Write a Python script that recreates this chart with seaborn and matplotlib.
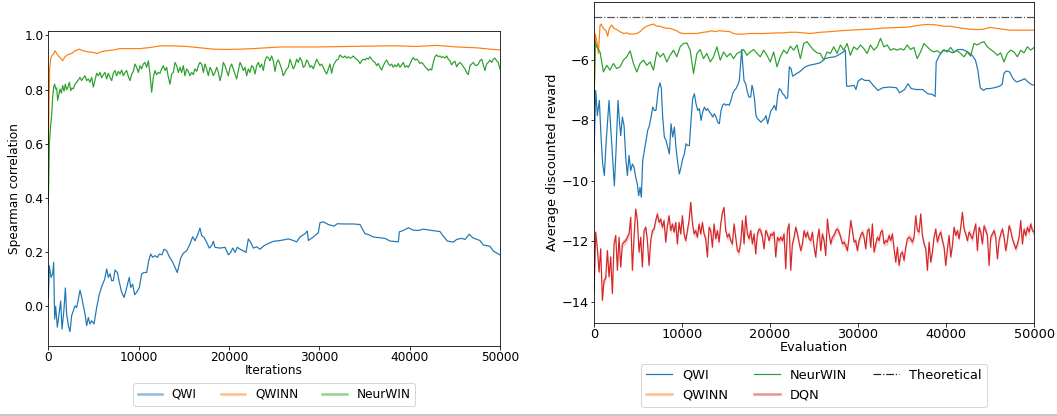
import numpy as np
import pandas as pd
import seaborn as sns
import matplotlib.pyplot as plt
from matplotlib.lines import Line2D

# ---------------- left panel: Spearman correlation vs iterations ----------------
qwi_corr = [
    (0, 0.03), (114, 0.15), (299, 0.107), (483, 0.12), (594, 0.162), (705, -0.047), (815, 0.0),
    (1000, -0.077), (1184, -0.028), (1369, 0.02), (1516, -0.084), (1738, -0.01), (1886, 0.068),
    (2033, -0.028), (2218, -0.071), (2402, -0.093), (2587, -0.034), (2771, -0.016), (2956, 0.002),
    (3140, -0.004), (3325, 0.027), (3509, 0.06), (3694, 0.033), (3878, 0.002), (4063, -0.028),
    (4247, -0.071), (4432, -0.041), (4616, -0.065), (4801, -0.053), (5059, -0.065), (5354, -0.004),
    (5649, 0.045), (5944, 0.076), (6240, 0.1), (6461, 0.138), (6645, 0.107), (6830, 0.12),
    (7015, 0.095), (7199, 0.095), (7384, 0.134), (7642, 0.125), (7863, 0.089), (8122, 0.052),
    (8380, 0.033), (8601, 0.058), (8823, 0.089), (8970, 0.107), (9118, 0.07), (9339, 0.082),
    (9561, 0.043), (9782, 0.052), (10077, 0.07), (10336, 0.12), (10594, 0.125), (10889, 0.125),
    (11111, 0.168), (11332, 0.193), (11554, 0.181), (11812, 0.187), (12070, 0.181), (12291, 0.193),
    (12587, 0.19), (12808, 0.211), (13103, 0.205), (13398, 0.183), (13693, 0.168), (14025, 0.144),
    (14284, 0.125), (14505, 0.156), (14653, 0.178), (14948, 0.196), (15317, 0.205), (15686, 0.23),
    (15982, 0.257), (16240, 0.242), (16498, 0.261), (16793, 0.289), (16978, 0.261), (17236, 0.255),
    (17531, 0.236), (17826, 0.215), (18085, 0.224), (18269, 0.24), (18454, 0.218), (19007, 0.215),
    (19561, 0.218), (19930, 0.19), (20188, 0.199), (20410, 0.215), (20668, 0.199), (20926, 0.218),
    (21221, 0.211), (21590, 0.205), (21885, 0.199), (22143, 0.249), (22402, 0.236), (22697, 0.215),
    (23066, 0.22), (23435, 0.211), (23878, 0.224), (24357, 0.232), (24911, 0.24), (25464, 0.242),
    (26018, 0.245), (26571, 0.249), (27125, 0.243), (27494, 0.238), (27863, 0.256), (28417, 0.268),
    (28675, 0.278), (28785, 0.243), (29339, 0.256), (29892, 0.272), (30077, 0.309), (30446, 0.312),
    (30999, 0.302), (31627, 0.296), (31996, 0.305), (32660, 0.304), (33767, 0.304), (34505, 0.302),
    (34801, 0.284), (35059, 0.268), (35428, 0.265), (35981, 0.256), (36719, 0.253), (37273, 0.251),
    (37826, 0.241), (38749, 0.238), (38859, 0.275), (39302, 0.28), (39855, 0.29), (40409, 0.281),
    (40962, 0.28), (41516, 0.285), (42254, 0.281), (43361, 0.276), (43730, 0.259), (44173, 0.241),
    (44837, 0.237), (45206, 0.247), (45760, 0.251), (46129, 0.247), (46609, 0.266), (46977, 0.253),
    (47789, 0.243), (48158, 0.226), (48896, 0.222), (49265, 0.204), (50000, 0.19),
]

qwinn_corr = [
    (0, 0.6), (150, 0.88), (299, 0.918), (373, 0.924), (557, 0.93), (742, 0.943), (926, 0.933),
    (1111, 0.924), (1369, 0.916), (1590, 0.906), (1849, 0.921), (2218, 0.93), (2587, 0.933),
    (2956, 0.943), (3435, 0.949), (3878, 0.943), (4432, 0.939), (4985, 0.937), (5428, 0.933),
    (5907, 0.94), (6461, 0.943), (7199, 0.946), (7937, 0.951), (9044, 0.951), (10151, 0.951),
    (11258, 0.955), (12365, 0.961), (13841, 0.961), (15317, 0.959), (16793, 0.954), (18269, 0.949),
    (19745, 0.948), (21221, 0.949), (22697, 0.951), (24173, 0.954), (25649, 0.957), (29710, 0.957),
    (33400, 0.959), (37080, 0.961), (38930, 0.961), (40780, 0.959), (42990, 0.963), (45210, 0.957),
    (47420, 0.954), (48900, 0.949), (50000, 0.946),
]

neurwin_corr_start = [
    (0, 0.38), (120, 0.6), (250, 0.665), (373, 0.705), (483, 0.772), (594, 0.809), (705, 0.82),
    (815, 0.802), (926, 0.806), (1037, 0.76), (1150, 0.778), (1294, 0.802), (1443, 0.787),
    (1590, 0.815), (1740, 0.794), (1886, 0.82), (2033, 0.799), (2180, 0.809), (2330, 0.827),
    (2476, 0.796), (2620, 0.806), (2770, 0.802),
]
# evaluated every ~185 iterations from 2956 to 50000
neurwin_corr_rest = [
    0.82, 0.827, 0.835, 0.845, 0.833, 0.843, 0.851, 0.833, 0.839, 0.827,
    0.845, 0.809, 0.835, 0.86, 0.851, 0.863, 0.843, 0.855, 0.863, 0.839,
    0.86, 0.845, 0.833, 0.86, 0.87, 0.851, 0.867, 0.857, 0.872, 0.851,
    0.863, 0.87, 0.848, 0.833, 0.857, 0.867, 0.894, 0.882, 0.863, 0.888,
    0.876, 0.894, 0.9, 0.882, 0.906, 0.857, 0.79, 0.845, 0.87, 0.855,
    0.863, 0.86, 0.876, 0.888, 0.87, 0.882, 0.845, 0.82, 0.857, 0.863,
    0.9, 0.888, 0.863, 0.882, 0.863, 0.888, 0.851, 0.876, 0.867, 0.851,
    0.863, 0.855, 0.876, 0.867, 0.888, 0.9, 0.894, 0.863, 0.894, 0.876,
    0.851, 0.882, 0.87, 0.851, 0.863, 0.882, 0.863, 0.833, 0.857, 0.9,
    0.888, 0.87, 0.851, 0.882, 0.894, 0.876, 0.857, 0.839, 0.87, 0.9,
    0.888, 0.87, 0.882, 0.851, 0.876, 0.863, 0.888, 0.882, 0.857, 0.888,
    0.9, 0.882, 0.894, 0.87, 0.906, 0.921, 0.918, 0.906, 0.924, 0.906,
    0.867, 0.9, 0.909, 0.894, 0.876, 0.851, 0.863, 0.876, 0.882,
    0.912, 0.894, 0.876, 0.888, 0.912, 0.9, 0.918, 0.906, 0.882, 0.888,
    0.909, 0.9, 0.882, 0.888, 0.876, 0.894, 0.912, 0.9, 0.888, 0.894,
    0.882, 0.867, 0.857, 0.876, 0.894, 0.86, 0.888, 0.9, 0.909, 0.912,
    0.928, 0.921, 0.918, 0.924, 0.916, 0.921, 0.916, 0.918, 0.924, 0.916,
    0.912, 0.906, 0.896, 0.906, 0.912, 0.909, 0.916, 0.912, 0.921, 0.912,
    0.904, 0.9, 0.888, 0.896, 0.882, 0.872, 0.888, 0.9, 0.909, 0.896,
    0.888, 0.894, 0.882, 0.891, 0.884, 0.896, 0.882, 0.891, 0.9, 0.882,
    0.888, 0.882, 0.894, 0.909, 0.918, 0.909, 0.912, 0.906, 0.896, 0.9,
    0.894, 0.884, 0.879, 0.87, 0.876, 0.872, 0.9, 0.921, 0.928, 0.921,
    0.924, 0.918, 0.921, 0.916, 0.924, 0.912, 0.906, 0.891, 0.9, 0.904,
    0.884, 0.894, 0.9, 0.894, 0.884, 0.876, 0.863, 0.855, 0.888, 0.894,
    0.9, 0.891, 0.888, 0.894, 0.906, 0.912, 0.891, 0.87, 0.894, 0.9,
    0.909, 0.9, 0.912, 0.916, 0.906, 0.9, 0.876,
]

# ---------------- right panel: average discounted reward vs evaluation ----------------
theoretical_reward = -4.58

qwi_reward = [
    (0, -9.1), (189, -7.02), (378, -7.85), (606, -7.35), (795, -8.56), (984, -9.45), (1174, -9.83),
    (1363, -8.78), (1553, -8.01), (1704, -7.35), (1893, -8.23), (2120, -9.23), (2310, -10.17),
    (2500, -9.0), (2727, -7.35), (2878, -8.01), (3030, -8.51), (3220, -7.9), (3410, -8.18),
    (3600, -9.23), (3790, -9.83), (3980, -9.17), (4170, -9.67), (4355, -9.45), (4545, -9.56),
    (4735, -9.89), (4920, -10.11), (5070, -10.5), (5225, -10.22), (5375, -10.55), (5530, -9.34),
    (5720, -9.0), (5910, -8.67), (6100, -8.34), (6290, -8.18), (6480, -7.9), (6670, -7.57),
    (6860, -7.68), (7040, -7.68), (7310, -6.96), (7500, -6.77), (7650, -6.96), (7800, -7.9),
    (7990, -8.56), (8180, -8.67), (8370, -8.9), (8560, -9.12), (8750, -8.12), (8940, -8.56),
    (9130, -8.23), (9310, -8.9), (9500, -9.39), (9690, -9.78), (9880, -9.56), (10070, -9.28),
    (10260, -9.12), (10450, -8.78), (10640, -8.84), (10830, -8.84), (11020, -8.01), (11210, -7.29),
    (11400, -7.13), (11590, -7.46), (11780, -7.68), (11970, -7.62), (12160, -8.01), (12350, -7.73),
    (12540, -7.57), (12730, -7.68), (12920, -7.62), (13110, -7.73), (13290, -7.79), (13480, -7.9),
    (13670, -7.79), (13860, -7.9), (14050, -8.07), (14240, -8.12), (14430, -7.68), (14620, -7.51),
    (14810, -7.46), (15000, -7.51), (15180, -7.48), (15370, -7.51), (15560, -7.35), (15750, -7.13),
    (15940, -7.02), (16130, -6.96), (16320, -6.85), (16510, -6.69), (16660, -6.13), (16780, -5.67),
    (16890, -6.13), (17040, -6.69), (17230, -6.8), (17420, -7.07), (17610, -7.24), (17800, -7.24),
    (17950, -6.85), (18100, -7.02), (18250, -7.35), (18400, -7.85), (18590, -7.96), (18780, -8.01),
    (18970, -8.07), (19160, -8.01), (19350, -7.96), (19540, -7.85), (19730, -8.12), (19920, -7.9),
    (20110, -7.68), (20300, -7.62), (20490, -7.51), (20680, -7.68), (20870, -7.18), (21060, -6.96),
    (21250, -7.02), (21430, -7.13), (21620, -7.18), (21810, -7.29), (22000, -7.26), (22190, -6.24),
    (22380, -6.3), (22570, -6.55), (22760, -6.52), (23020, -6.46), (23330, -6.41), (23590, -6.35),
    (23860, -6.27), (24160, -6.22), (24460, -6.19), (25110, -6.15), (25680, -6.11), (26240, -5.97),
    (26810, -5.93), (27380, -5.91), (27950, -5.82), (28320, -5.75), (28550, -5.69), (28700, -6.88),
    (29080, -6.88), (29530, -6.85), (29760, -6.99), (30020, -6.71), (30400, -6.63), (30780, -6.69),
    (31270, -6.69), (31720, -6.85), (32260, -7.02), (32830, -6.93), (33590, -6.91), (34350, -6.93),
    (34720, -7.1), (35290, -6.99), (35670, -6.8), (36050, -6.96), (36600, -6.99), (37350, -6.99),
    (37920, -7.13), (38420, -7.15), (38760, -7.22), (38880, -6.08), (39260, -5.86), (39630, -5.71),
    (40200, -5.71), (40770, -5.78), (41340, -5.67), (41910, -5.67), (42470, -5.75), (42960, -5.86),
    (43340, -6.02), (43610, -6.35), (43880, -6.93), (44260, -7.02), (44560, -6.96), (44940, -6.96),
    (45510, -6.93), (46080, -6.88), (46380, -6.82), (46570, -6.46), (46840, -6.38), (47220, -6.41),
    (47600, -6.63), (47980, -6.74), (48540, -6.69), (48920, -6.63), (49300, -6.74), (49680, -6.82),
    (50000, -6.85),
]

qwinn_reward = [
    (0, -7.6), (150, -5.15), (350, -5.45), (500, -5.8), (680, -4.88), (795, -4.83), (1060, -4.97),
    (1360, -5.05), (1550, -5.23), (1740, -4.97), (2010, -4.86), (2270, -4.97), (2580, -5.01),
    (2950, -5.08), (3330, -5.14), (3710, -5.12), (4090, -5.16), (4470, -5.16), (4850, -5.14),
    (5230, -5.08), (5600, -4.97), (5980, -4.9), (6360, -4.86), (6740, -4.83), (7120, -4.9),
    (7500, -4.9), (7880, -4.94), (8260, -4.97), (8630, -4.97), (9010, -5.01), (9390, -5.05),
    (9770, -5.12), (10150, -5.14), (10910, -5.14), (11660, -5.14), (12420, -5.1), (12990, -5.08),
    (13370, -5.05), (13750, -5.08), (14130, -5.05), (14700, -5.06), (15450, -5.08), (15830, -5.14),
    (16210, -5.16), (16970, -5.16), (17720, -5.14), (18480, -5.14), (19240, -5.14), (19990, -5.13),
    (20750, -5.12), (21510, -5.12), (22260, -5.1), (23020, -5.1), (23780, -5.12), (24540, -5.14),
    (25680, -5.1), (26810, -5.08), (27950, -5.05), (29080, -5.03), (30220, -5.01), (31350, -5.0),
    (32490, -4.97), (33630, -4.95), (34760, -4.94), (35900, -4.92), (36660, -4.88), (37410, -4.85),
    (38170, -4.84), (38930, -4.86), (39680, -4.9), (40440, -4.9), (41200, -4.94), (41950, -4.97),
    (42710, -5.0), (43470, -5.01), (44220, -5.0), (44980, -4.94), (45740, -4.97), (46490, -5.0),
    (47250, -5.03), (48390, -5.03), (50000, -5.03),
]

neurwin_reward_start = [(0, -7.5), (150, -5.4)]
# evaluated every ~380 steps from 303 to 50000
neurwin_reward_rest = [
    -5.58, -5.75, -6.41, -6.19, -6.35, -6.13, -6.3, -6.24, -6.02, -5.91,
    -5.71, -6.13, -6.41, -6.13, -6.02, -6.19, -6.08, -6.35, -5.75, -5.91,
    -5.8, -6.08, -5.86, -5.69, -5.91, -5.58, -5.47, -5.45, -5.69, -6.46,
    -5.8, -5.67, -5.97, -5.8, -6.08, -5.91, -5.58, -6.02, -5.75, -5.91,
    -5.8, -5.97, -5.8, -5.75, -5.67, -5.86, -5.75, -5.67, -5.8, -5.91,
    -5.69, -5.86, -6.08, -5.75, -6.24, -5.91, -5.69, -5.8, -5.56, -5.69,
    -5.52, -5.97, -5.47, -5.41,
    -5.56, -5.69, -5.78, -5.8, -6.02, -5.75, -5.8, -5.58, -5.8, -5.52,
    -5.69, -5.47, -5.86, -5.58, -5.67, -5.52, -5.64, -5.8, -5.52, -5.69,
    -5.58, -5.3, -5.58, -5.52, -5.69, -5.64, -5.69, -5.64, -5.69, -5.52,
    -5.67, -5.6, -5.97, -5.75, -5.47, -5.58, -5.69, -5.75, -5.71, -5.8,
    -5.67, -5.75, -5.6, -5.75, -5.71, -5.8, -5.91, -5.75, -5.89, -5.47,
    -5.52, -5.45, -5.41, -5.58, -5.67, -5.75, -5.86, -5.78, -6.08, -5.8,
    -5.69, -5.75, -5.91, -5.69, -5.78, -5.58, -5.69, -5.6,
]

# DQN mean over runs, evaluated every ~190 steps from 0 to 50000
dqn_reward = [
    -13.7,
    -11.7, -12.25, -13.02, -12.25, -13.95, -13.29, -13.23, -12.31, -13.18, -12.52,
    -13.73, -12.09, -11.81, -12.96, -11.87, -12.85, -12.09, -12.03, -11.98, -11.87,
    -11.76, -11.21, -12.96, -11.87, -10.94, -11.32, -12.36, -11.87, -12.85, -11.65,
    -11.54, -11.98, -12.8, -11.98, -11.65, -11.6, -11.32, -11.1, -11.38, -11.27,
    -11.54, -11.32, -12.03, -11.49, -11.16, -11.65, -11.43, -11.7, -11.38, -12.09,
    -11.38, -11.76, -11.16, -11.76, -11.98, -11.65, -11.32, -10.72, -11.38, -11.76,
    -11.65, -11.87, -11.43, -11.76, -11.38, -11.76, -11.92, -12.52, -11.54, -11.65,
    -12.2, -11.43, -11.92, -11.65, -12.03, -11.43, -11.05, -10.89, -11.65, -11.87,
    -11.76, -11.98, -12.09, -11.43, -11.87, -12.31, -12.36, -12.03, -11.32, -12.09,
    -11.16, -11.76, -11.92, -11.65, -12.09, -11.76, -12.42, -11.76, -11.6, -11.65,
    -11.87, -12.25, -11.65, -11.76, -11.98, -11.76, -11.81, -11.7, -12.52, -11.87,
    -11.98, -11.87, -11.98, -11.76, -12.91, -11.65, -11.43, -12.96, -12.09, -11.87,
    -11.54, -11.76, -12.03, -12.31, -12.09, -11.65, -11.87, -11.7, -11.92,
    -11.98, -11.7, -12.2, -12.52, -11.92, -11.6, -12.31, -11.76, -11.98, -12.47,
    -11.27, -11.76, -12.09, -11.87, -11.81, -11.65, -11.6, -11.7, -11.87, -12.09,
    -12.03, -12.14, -12.31, -11.87, -11.32, -11.65, -12.03, -11.98, -12.31, -11.98,
    -11.81, -11.7, -11.87, -12.25, -11.65, -11.6, -12.2, -11.43, -12.36, -12.09,
    -11.87, -11.98, -11.7, -11.65, -12.09, -11.98, -12.03, -11.81, -11.98, -11.76,
    -12.25, -12.69, -12.2, -12.8, -12.42, -12.36, -12.63, -12.2, -11.92, -11.87,
    -11.92, -12.03, -11.87, -11.16, -11.65, -11.7, -11.1, -11.81, -12.09, -12.25,
    -12.96, -12.03, -12.69, -12.36, -11.87, -11.6, -12.03, -11.81, -11.7, -11.98,
    -12.2, -12.8, -12.25, -11.81, -12.52, -12.14, -11.54, -11.81, -11.65, -11.92,
    -11.54, -11.05, -11.6, -11.76, -11.98, -11.7, -11.81, -11.92, -11.65, -11.43,
    -12.31, -11.54, -11.7, -12.09, -11.49, -11.65, -11.81, -12.8, -11.87, -11.76,
    -11.65, -11.87, -12.58, -11.98, -11.76, -11.6, -11.87, -12.31, -11.98, -11.49,
    -11.65, -11.92, -12.09, -12.25, -12.09, -11.87, -11.32, -12.09, -11.6, -11.81,
    -11.54, -11.7, -11.43, -11.65, -11.7,
]
dqn_ci_half = 0.12


def to_frame(pairs):
    x, y = zip(*pairs)
    return pd.DataFrame({"x": x, "y": y})


def even_frame(start_pairs, x0, x1, values):
    head = to_frame(start_pairs)
    tail = pd.DataFrame({"x": np.linspace(x0, x1, len(values)), "y": values})
    return pd.concat([head, tail], ignore_index=True)


blue, orange, green, red = sns.color_palette("tab10")[:4]
LW = 1.2
FS_LEFT = 12.1
FS_RIGHT = 12.9

# 72 dpi so that 1 pt == 1 px
fig = plt.figure(figsize=(1057 / 72, 416 / 72), dpi=72)
ax1 = fig.add_axes([0.0457, 0.1671, 0.4273, 0.7584])
ax2 = fig.add_axes([0.562, 0.2236, 0.4163, 0.7716])

# left
sns.lineplot(data=to_frame(qwi_corr), x="x", y="y", ax=ax1, color=blue, lw=LW, errorbar=None)
sns.lineplot(data=to_frame(qwinn_corr), x="x", y="y", ax=ax1, color=orange, lw=LW, errorbar=None)
sns.lineplot(data=even_frame(neurwin_corr_start, 2956, 50000, neurwin_corr_rest),
             x="x", y="y", ax=ax1, color=green, lw=LW, errorbar=None)
ax1.set_xlim(0, 50000)
ax1.set_ylim(-0.148, 1.016)
ax1.set_xticks([0, 10000, 20000, 30000, 40000, 50000])
ax1.set_xlabel("Iterations", fontsize=FS_LEFT, labelpad=0)
ax1.set_ylabel("Spearman correlation", fontsize=FS_LEFT, labelpad=3)
ax1.tick_params(labelsize=FS_LEFT, length=3.5, pad=1.5)
ax1.legend(handles=[Line2D([], [], color=c, lw=2.5, alpha=0.5) for c in (blue, orange, green)],
           labels=["QWI", "QWINN", "NeurWIN"], loc="upper center",
           bbox_to_anchor=(0.5, -0.097), ncol=3, fontsize=FS_LEFT)

# right
dqn = pd.DataFrame({"x": np.linspace(0, 50000, len(dqn_reward)), "y": dqn_reward})
ax2.fill_between(dqn["x"], dqn["y"] - dqn_ci_half, dqn["y"] + dqn_ci_half,
                 color=red, alpha=0.25, lw=0)
sns.lineplot(data=dqn, x="x", y="y", ax=ax2, color=red, lw=LW, errorbar=None)
sns.lineplot(data=to_frame(qwi_reward), x="x", y="y", ax=ax2, color=blue, lw=LW, errorbar=None)
sns.lineplot(data=to_frame(qwinn_reward), x="x", y="y", ax=ax2, color=orange, lw=LW, errorbar=None)
sns.lineplot(data=even_frame(neurwin_reward_start, 303, 50000, neurwin_reward_rest),
             x="x", y="y", ax=ax2, color=green, lw=LW, errorbar=None)
ax2.axhline(theoretical_reward, color="#555555", ls="-.", lw=1.2)
ax2.set_xlim(0, 50000)
ax2.set_ylim(-14.7, -4.1)
ax2.set_xticks([0, 10000, 20000, 30000, 40000, 50000])
ax2.set_xlabel("Evaluation", fontsize=FS_RIGHT, labelpad=0)
ax2.set_ylabel("Average discounted reward", fontsize=FS_RIGHT, labelpad=3)
ax2.tick_params(labelsize=FS_RIGHT, length=3.5, pad=1.5)
handles = [
    Line2D([], [], color=blue, lw=1.2),
    Line2D([], [], color=orange, lw=2.5, alpha=0.5),
    Line2D([], [], color=green, lw=1.2),
    Line2D([], [], color=red, lw=2.5, alpha=0.5),
    Line2D([], [], color="#222222", ls="-.", lw=1.2),
]
ax2.legend(handles=handles, labels=["QWI", "QWINN", "NeurWIN", "DQN", "Theoretical"],
           loc="upper center", bbox_to_anchor=(0.5, -0.107), ncol=3, fontsize=FS_RIGHT)

fig.add_artist(Line2D([0, 1], [0.003, 0.003], color="#b5b5b5", lw=1.5))

fig.savefig("out.png", dpi=72)
